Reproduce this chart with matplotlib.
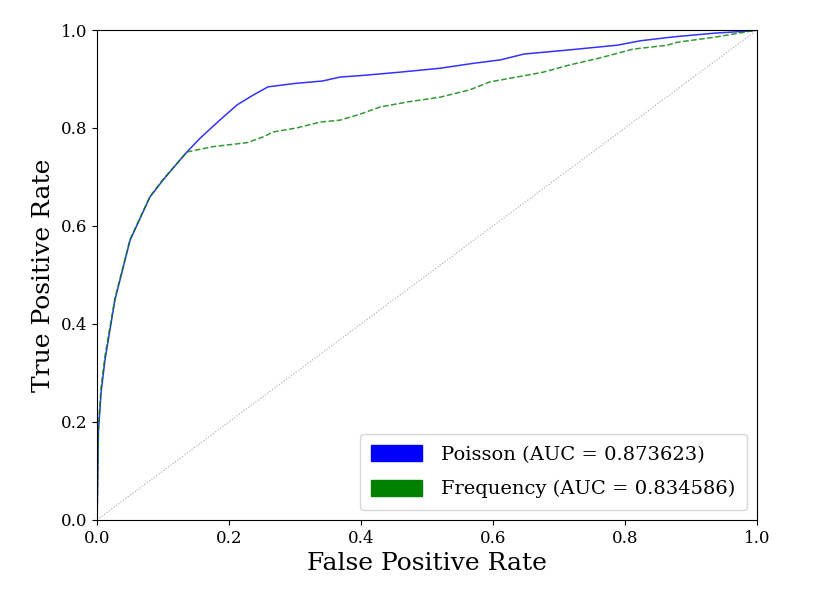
import matplotlib
matplotlib.use("Agg")
import matplotlib.pyplot as plt
import matplotlib.patches as mpatches

plt.rcParams['font.family'] = ['DejaVu Serif']

# curvas ROC
fpr_poisson = [0.0, 0.002, 0.006, 0.012, 0.027, 0.05, 0.08, 0.10, 0.136, 0.156, 0.185,
               0.212, 0.235, 0.259, 0.30, 0.342, 0.368, 0.40, 0.459, 0.52, 0.57,
               0.611, 0.647, 0.712, 0.788, 0.823, 0.873, 0.939, 0.989, 1.0]
tpr_poisson = [0.0, 0.18, 0.26, 0.327, 0.449, 0.571, 0.659, 0.694, 0.751, 0.779, 0.815,
               0.847, 0.866, 0.884, 0.891, 0.896, 0.904, 0.907, 0.914, 0.922, 0.932,
               0.939, 0.951, 0.959, 0.969, 0.978, 0.986, 0.994, 0.998, 1.0]

fpr_freq = [0.0, 0.002, 0.006, 0.012, 0.027, 0.05, 0.08, 0.10, 0.136, 0.176, 0.227,
            0.252, 0.267, 0.302, 0.338, 0.368, 0.398, 0.429, 0.47, 0.52, 0.565,
            0.595, 0.636, 0.676, 0.717, 0.762, 0.812, 0.864, 0.879, 0.939, 0.974, 1.0]
tpr_freq = [0.0, 0.19, 0.27, 0.335, 0.452, 0.573, 0.66, 0.695, 0.751, 0.762, 0.770,
            0.782, 0.792, 0.800, 0.812, 0.816, 0.828, 0.843, 0.853, 0.863, 0.878,
            0.894, 0.904, 0.914, 0.929, 0.943, 0.961, 0.969, 0.975, 0.986, 0.994, 1.0]

etiquetas = ['Poisson (AUC = 0.873623)', 'Frequency (AUC = 0.834586)']
colores = ['blue', 'green']

fig = plt.figure(figsize=(8.3, 6.13), dpi=100)
ax = fig.add_axes([0.117, 0.152, 0.795, 0.799])

ax.plot(fpr_poisson, tpr_poisson, color='blue', lw=1.1, alpha=0.8)
ax.plot(fpr_freq, tpr_freq, color='green', lw=1.1, ls='--', alpha=0.8)
ax.plot([0, 1], [0, 1], color='gray', lw=0.8, ls=':', alpha=0.7)

ax.set_xlim(0, 1)
ax.set_ylim(0, 1)
ax.set_xlabel('False Positive Rate', fontsize=18)
ax.set_ylabel('True Positive Rate', fontsize=18)
ax.tick_params(labelsize=12)

parches = [mpatches.Patch(color=c, label=l) for c, l in zip(colores, etiquetas)]
ax.legend(handles=parches, loc='lower right', fontsize=14, labelspacing=0.8,
          handlelength=2.6, handleheight=0.9, handletextpad=1.0, borderpad=0.6)

fig.savefig('out.png', dpi=100)
